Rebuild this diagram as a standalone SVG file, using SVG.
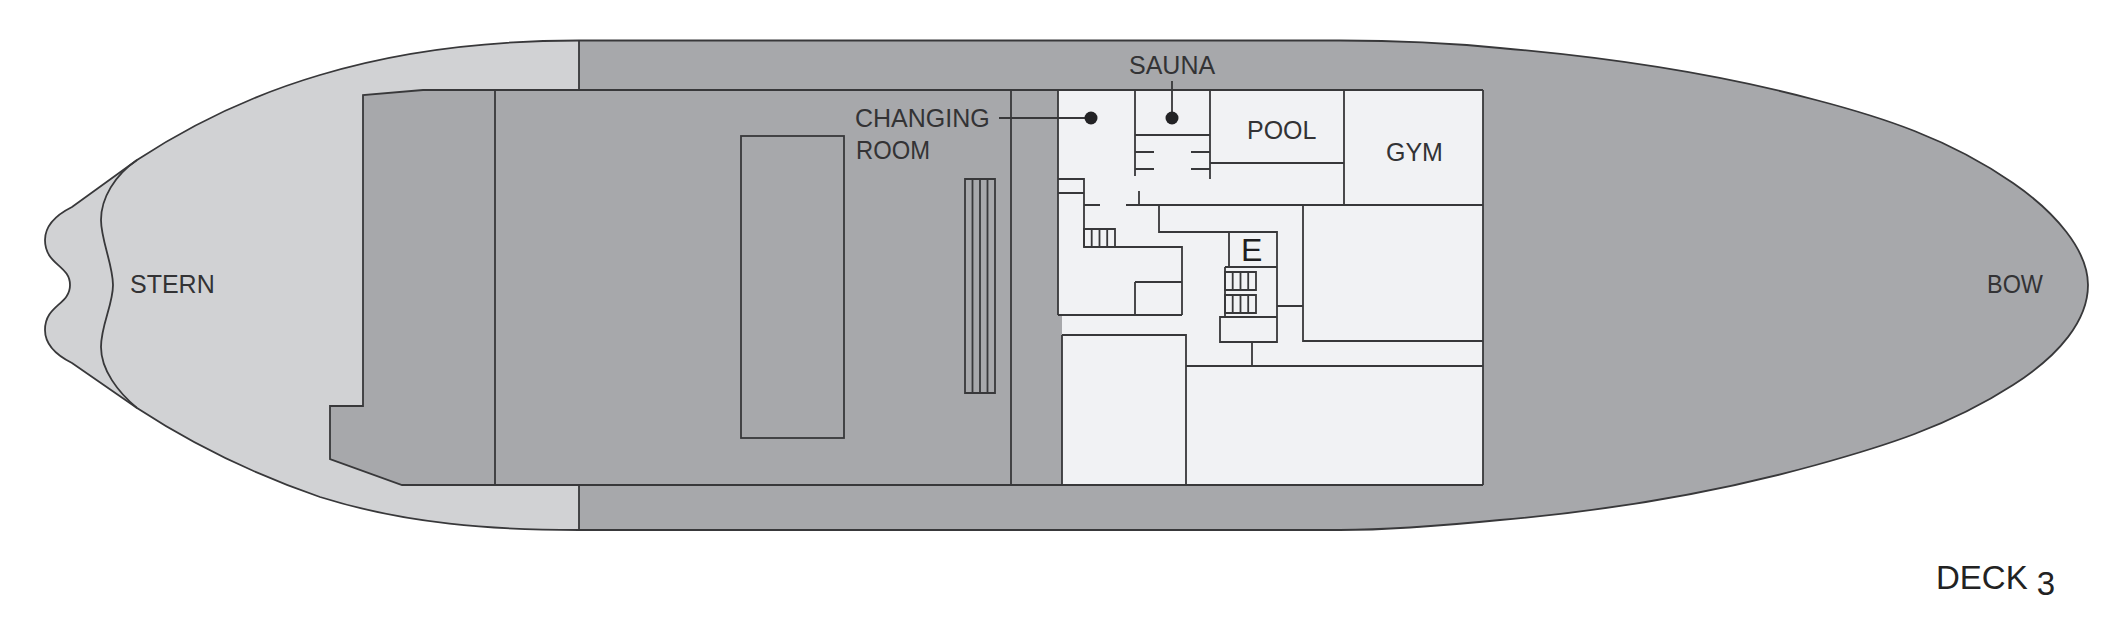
<svg xmlns="http://www.w3.org/2000/svg" width="2116" height="632" viewBox="0 0 2116 632">
<style>
.l{fill:none;stroke:#38383a;stroke-width:1.8}
text{font-family:"Liberation Sans",Arial,sans-serif;font-size:25px;fill:#333335}
</style>
<defs>
<g id="stair4"><path class="l" d="M0 0H31V18H0ZM7.700 0V18M15.500 0V18M23.200 0V18"/></g>
</defs>
<rect width="2116" height="632" fill="#fff"/>
<g id="hull">
<path id="hull-shape" d="M579 40.500H1340C1395 40.500 1450 43 1500 48C1605 57 1711 72 1816 100C1881 117 1948 138 2013 183C2055 212 2088 250 2088 285C2088 320 2060 355 2013 385C1948 427 1881 447 1816 465C1711 494 1605 511 1500 520C1450 525 1395 530 1340 530H579C493 530 406 524 320 497C259 476 198 448 137 408L72 363C50 352 45 340 45 330C45 305 70 305 70 285C70 265 45 265 45 240C45 230 50 218 72 207L137 160C198 120 259 93 320 75C406 49 493 40.500 579 40.500Z" fill="#d1d2d4"/>
<path id="hull-dark" d="M579 40.500H1340C1395 40.500 1450 43 1500 48C1605 57 1711 72 1816 100C1881 117 1948 138 2013 183C2055 212 2088 250 2088 285C2088 320 2060 355 2013 385C1948 427 1881 447 1816 465C1711 494 1605 511 1500 520C1450 525 1395 530 1340 530H579Z" fill="#a7a8ab"/>
<path class="l" d="M579 40.500H1340C1395 40.500 1450 43 1500 48C1605 57 1711 72 1816 100C1881 117 1948 138 2013 183C2055 212 2088 250 2088 285C2088 320 2060 355 2013 385C1948 427 1881 447 1816 465C1711 494 1605 511 1500 520C1450 525 1395 530 1340 530H579C493 530 406 524 320 497C259 476 198 448 137 408L72 363C50 352 45 340 45 330C45 305 70 305 70 285C70 265 45 265 45 240C45 230 50 218 72 207L137 160C198 120 259 93 320 75C406 49 493 40.500 579 40.500Z"/>
<path class="l" d="M137 160C115 175 101 198 101 220C101 240 113 265 113 285C113 305 101 325 101 347C101 370 118 392 137 408"/>
<path class="l" d="M579 40.500V90M579 485V530"/>
</g>
<g id="deck">
<path d="M363 95L423 90H1058V485H402L330 459V406H363Z" fill="#a7a8ab"/>
<path class="l" d="M1483 90H423L363 95V406H330V459L402 485H1483"/>
<path class="l" d="M495 90V485M1011 90V485"/>
</g>
<g id="pool-deck"><rect class="l" x="741" y="136" width="103" height="302"/></g>
<g id="stairs-deck"><path class="l" d="M965 179H995V393H965ZM972.500 179V393M980 179V393M987.500 179V393"/></g>
<g id="spa">
<path d="M1058 90H1483V485H1062V315H1058Z" fill="#f1f2f4"/>
<path class="l" d="M1058 90V315M1062 335V485M1483 90V485M1062 485H1483M1058 90H1483"/>
</g>
<g id="rooms">
<path class="l" d="M1135 90V176M1210 90V179M1135 135H1210M1135 152H1154M1135 169H1154M1191 152H1210M1191 169H1210"/>
<path class="l" d="M1210 163H1344M1344 90V205M1126 205H1483M1084 205H1100M1139 191V205"/>
<path class="l" d="M1058 179H1084V247M1058 193H1084M1084 247H1182V315M1135 282H1182M1135 282V315M1058 315H1182"/>
<path class="l" d="M1159 205V232H1277V342H1220V317H1277M1229 232V267M1225 267H1277M1225 267V317"/>
<path class="l" d="M1252 342V366M1186 366H1483M1303 205V341H1483M1277 306H1303M1062 335H1186V485"/>
<use href="#stair4" x="1084" y="229"/>
<use href="#stair4" x="1225" y="272"/>
<use href="#stair4" x="1225" y="295"/>
</g>
<g id="connectors">
<path class="l" d="M999 118H1091M1172 81V118"/>
<circle cx="1091" cy="118" r="6.500" fill="#232325"/>
<circle cx="1172" cy="118" r="6.500" fill="#232325"/>
</g>
<g id="labels">
<text x="1129" y="74">SAUNA</text>
<text x="855" y="127">CHANGING</text>
<text x="856" y="159" textLength="74" lengthAdjust="spacingAndGlyphs">ROOM</text>
<text x="1247" y="139">POOL</text>
<text x="1386" y="161">GYM</text>
<text x="1241" y="261" style="font-size:32px;fill:#1e1e20">E</text>
<text x="130" y="293">STERN</text>
<text x="1987" y="293" textLength="56" lengthAdjust="spacingAndGlyphs">BOW</text>
<text x="1936" y="589" style="font-size:33px;fill:#222">DECK <tspan dy="6">3</tspan></text>
</g>
</svg>
